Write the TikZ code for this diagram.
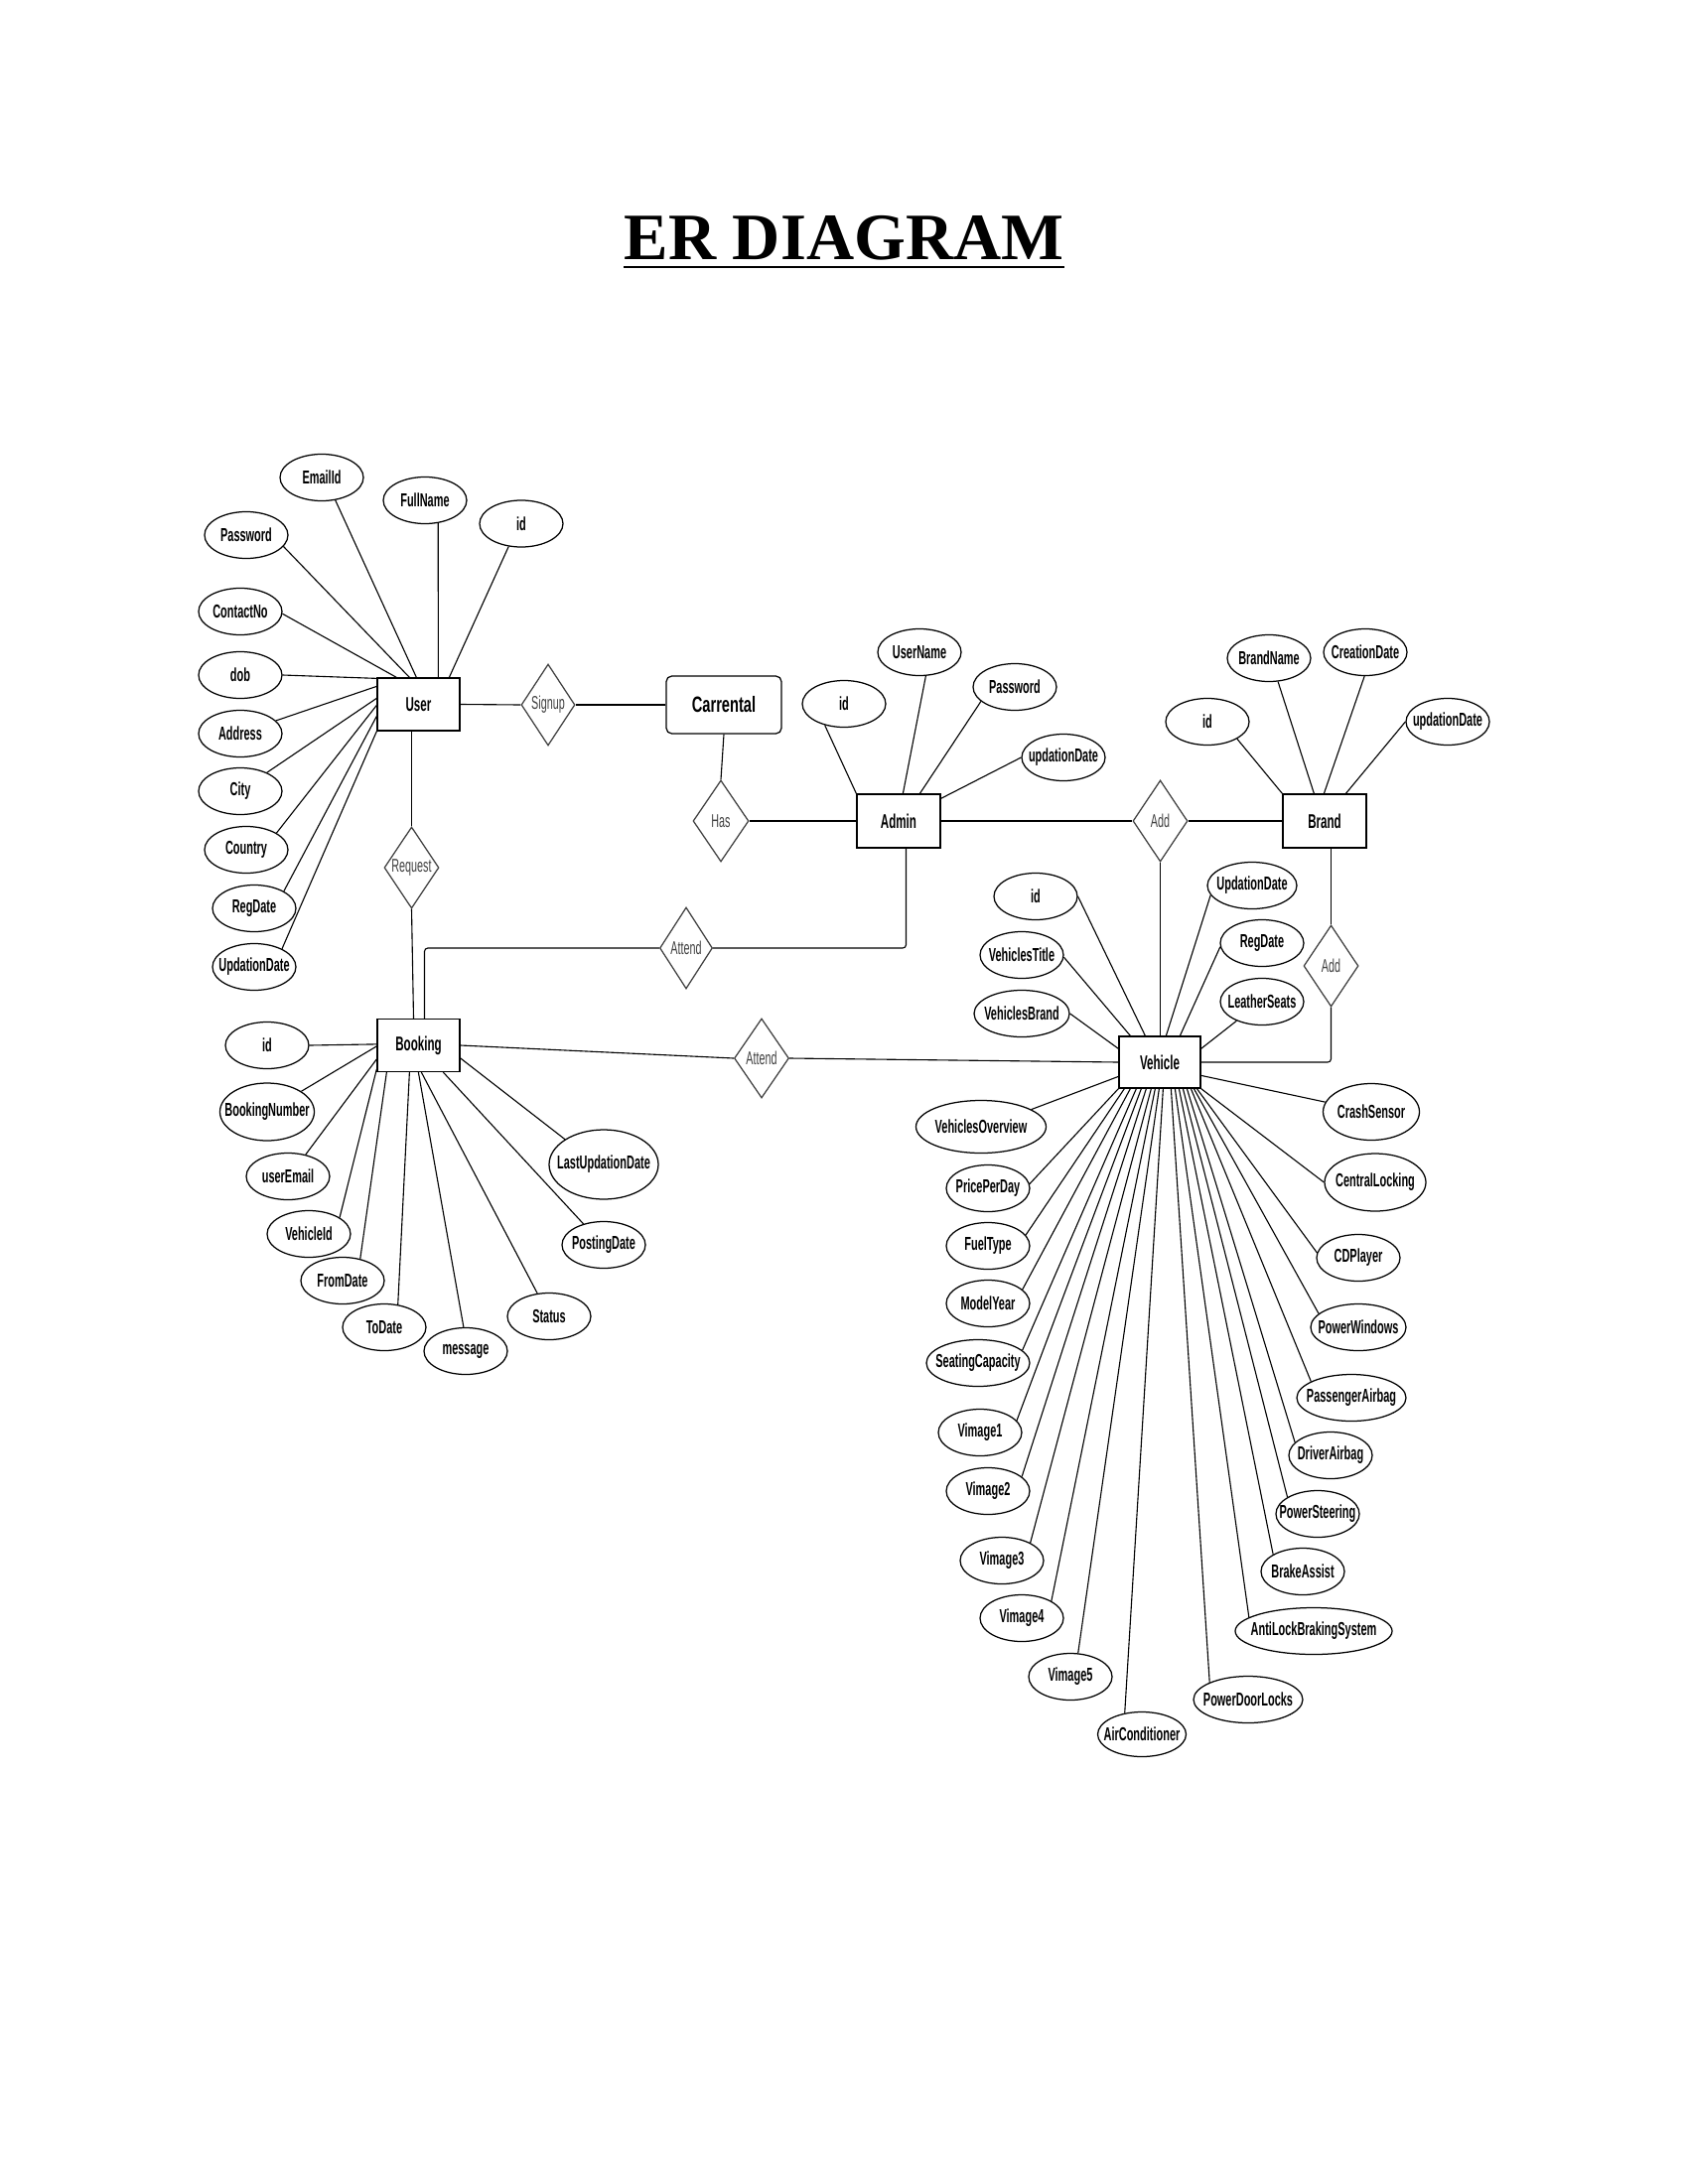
\documentclass[tikz,border=0pt]{standalone}
\usepackage{fontspec}
\usetikzlibrary{shapes.geometric,calc}
\setmainfont{Liberation Serif}
\newfontfamily\lblfont[FakeStretch=0.58]{Liberation Sans}
\newfontfamily\carfont[FakeStretch=0.66]{Liberation Sans}
% one drawing unit = one pixel of a 1700 x 2200 page
\newcommand\pxl{0.36pt}
\newcommand\lbl[1]{\makebox[0pt]{#1}}
\newcommand\attrfont{\lblfont\fontsize{6.8}{8}\selectfont\bfseries}
\newcommand\entfont{\lblfont\fontsize{7.2}{8}\selectfont\bfseries}
\newcommand\relfont{\lblfont\fontsize{6.7}{8}\selectfont}
\tikzset{
  conn/.style={draw=black, line width=0.4pt},
  entity/.style={draw, rectangle, line width=0.45pt, minimum width=83*\pxl,
    minimum height=53*\pxl, inner sep=0pt, font=\entfont},
  attr/.style={draw, ellipse, line width=0.45pt, minimum width=84*\pxl,
    minimum height=47*\pxl, inner sep=0pt, font=\attrfont},
  rel/.style={draw=black!75, diamond, line width=0.45pt, minimum width=55*\pxl,
    minimum height=82*\pxl, inner sep=0pt, font=\relfont, text=black!75},
  ew/.style={minimum width=#1*\pxl},
  eh/.style={minimum height=#1*\pxl},
  elbow/.style={conn, rounded corners=1.2pt},
}
\begin{document}
\begin{tikzpicture}[x=0.36pt, y=-0.36pt]
\useasboundingbox (0,0) rectangle (1700,2200);

% title
\node[font=\fontsize{24}{28}\selectfont\bfseries, inner sep=0pt, anchor=base] (title) at (850,262) {ER DIAGRAM};
\draw[line width=1pt] ($(title.base west)+(0,7)$) -- ($(title.base east)+(0,7)$);

% entities
\node[entity] (user) at (421.5,709.5) {User};
\node[entity] (booking) at (421.5,1053) {Booking};
\node[entity, minimum width=84*\pxl, minimum height=54*\pxl] (admin) at (905,827) {Admin};
\node[entity, minimum width=84*\pxl, minimum height=54*\pxl] (brand) at (1334,827) {Brand};
\node[entity, minimum width=82*\pxl, minimum height=52*\pxl] (vehicle) at (1168,1070) {Vehicle};
\node[draw, rounded corners=2pt, line width=0.45pt, minimum width=116*\pxl, minimum height=58*\pxl,
  inner sep=0pt, font=\carfont\fontsize{8}{9}\selectfont\bfseries] (carrental) at (729,710) {Carrental};

% relationships
\node[rel, ew=54] (signup) at (552,710) {\lbl{Signup}};
\node[rel] (request) at (414.5,874) {\lbl{Request}};
\node[rel, ew=56] (has) at (726,827) {\lbl{Has}};
\node[rel, ew=53] (attendA) at (691,955) {\lbl{Attend}};
\node[rel] (addA) at (1168.5,827) {\lbl{Add}};
\node[rel] (addB) at (1340.5,973) {\lbl{Add}};
\node[rel, eh=80] (attendB) at (767,1066) {\lbl{Attend}};

% relationship links
\draw[conn] (user.east) -- (signup.west);
\draw[conn] (signup.east) -- (carrental.west);
\draw[conn] (carrental.south) -- (has.north);
\draw[conn] (has.east) -- (admin.west);
\draw[conn] (admin.east) -- (addA.west);
\draw[conn] (addA.east) -- (brand.west);
\draw[conn] (addA.south) -- (addA.south |- vehicle.north);
\draw[conn] (brand.south -| addB.north) -- (addB.north);
\draw[elbow] (addB.south) |- (vehicle.east);
\draw[elbow] ($(admin.south)+(7.5,0)$) |- (attendA.east);
\draw[elbow] (attendA.west) -| ($(booking.north)+(6,0)$);
\draw[conn] (user.south -| request.north) -- (request.north);
\draw[conn] (request.south) -- ($(booking.north)+(-5,0)$);
\draw[conn] (booking.east) -- (attendB.west);
\draw[conn] (attendB.east) -- (vehicle.west);

% User attributes
\node[attr] (uemail) at (324,481) {\lbl{EmailId}};
\node[attr] (ufull) at (428,504) {\lbl{FullName}};
\node[attr] (uid) at (525,527.5) {\lbl{id}};
\node[attr] (upass) at (248,539) {\lbl{Password}};
\node[attr] (ucontact) at (242,616) {\lbl{ContactNo}};
\node[attr] (udob) at (242,680) {\lbl{dob}};
\node[attr] (uaddr) at (242,739) {\lbl{Address}};
\node[attr] (ucity) at (242,797) {\lbl{City}};
\node[attr] (ucountry) at (248,856) {\lbl{Country}};
\node[attr] (ureg) at (256,915) {\lbl{RegDate}};
\node[attr] (uupd) at (256,974) {\lbl{UpdationDate}};
\draw[conn] (uemail.-59) -- ($(user.north west)+(40,0)$);
\draw[conn] (ufull.-60) -- ($(user.north west)+(62,0)$);
\draw[conn] (uid.-119) -- ($(user.north west)+(73,0)$);
\draw[conn] (upass.-17) -- ($(user.north west)+(33,0)$);
\draw[conn] (ucontact.-3) -- ($(user.north west)+(20,0)$);
\draw[conn] (udob.0) -- ($(user.north west)+(0,1)$);
\draw[conn] (uaddr.20) -- ($(user.north west)+(0,9)$);
\draw[conn] (ucity.35) -- ($(user.north west)+(0,21)$);
\draw[conn] (ucountry.29) -- ($(user.north west)+(0,28)$);
\draw[conn] (ureg.30) -- ($(user.north west)+(0,39)$);
\draw[conn] (uupd.33) -- (user.south west);

% Admin attributes
\node[attr] (aid) at (850,709) {\lbl{id}};
\node[attr] (auser) at (926,657) {\lbl{UserName}};
\node[attr] (apass) at (1022,692) {\lbl{Password}};
\node[attr] (aupd) at (1071,763) {\lbl{updationDate}};
\draw[conn] (aid.-132) -- (admin.north west);
\draw[conn] (auser.-75) -- ($(admin.north west)+(47,0)$);
\draw[conn] (apass.-157) -- ($(admin.north west)+(64,0)$);
\draw[conn] (aupd.180) -- ($(admin.north east)+(0,5)$);

% Brand attributes
\node[attr] (bname) at (1278,663) {\lbl{BrandName}};
\node[attr] (bcreate) at (1375,657) {\lbl{CreationDate}};
\node[attr] (bid) at (1216,727) {\lbl{id}};
\node[attr] (bupd) at (1458,727) {\lbl{updationDate}};
\draw[conn] (bid.-30) -- (brand.north west);
\draw[conn] (bname.-69) -- ($(brand.north west)+(32,0)$);
\draw[conn] (bcreate.-92) -- ($(brand.north west)+(42,0)$);
\draw[conn] (bupd.180) -- ($(brand.north west)+(64,0)$);

% Vehicle attributes
\node[attr] (vid) at (1043,903) {\lbl{id}};
\node[attr] (vtitle) at (1029,962) {\lbl{VehiclesTitle}};
\node[attr, ew=96] (vbrand) at (1029,1021) {\lbl{VehiclesBrand}};
\node[attr, ew=90] (vupd) at (1261,892) {\lbl{UpdationDate}};
\node[attr] (vreg) at (1271,950) {\lbl{RegDate}};
\node[attr] (vleather) at (1271,1009) {\lbl{LeatherSeats}};
\node[attr, ew=131, eh=53] (voverview) at (988,1135) {\lbl{VehiclesOverview}};
\node[attr] (vprice) at (995,1197) {\lbl{PricePerDay}};
\node[attr] (vfuel) at (995,1255) {\lbl{FuelType}};
\node[attr] (vmodel) at (995,1313) {\lbl{ModelYear}};
\node[attr, ew=104] (vseat) at (985,1373) {\lbl{SeatingCapacity}};
\node[attr] (vimg1) at (987,1443) {\lbl{Vimage1}};
\node[attr] (vimg2) at (995,1502) {\lbl{Vimage2}};
\node[attr] (vimg3) at (1009,1572) {\lbl{Vimage3}};
\node[attr] (vimg4) at (1029,1630) {\lbl{Vimage4}};
\node[attr] (vimg5) at (1078,1689) {\lbl{Vimage5}};
\node[attr, ew=89, eh=45] (vair) at (1150,1747) {\lbl{AirConditioner}};
\node[attr, ew=110] (vdoor) at (1257,1712) {\lbl{PowerDoorLocks}};
\node[attr, ew=158] (vabs) at (1323,1643) {\lbl{AntiLockBrakingSystem}};
\node[attr] (vbrake) at (1312,1583) {\lbl{BrakeAssist}};
\node[attr] (vsteer) at (1327,1525) {\lbl{PowerSteering}};
\node[attr] (vdriver) at (1340,1466) {\lbl{DriverAirbag}};
\node[attr, ew=110] (vpass) at (1361,1408) {\lbl{PassengerAirbag}};
\node[attr, ew=96] (vwin) at (1368,1337) {\lbl{PowerWindows}};
\node[attr] (vcd) at (1368,1267) {\lbl{CDPlayer}};
\node[attr, ew=102, eh=58] (vcentral) at (1385,1191) {\lbl{CentralLocking}};
\node[attr, ew=97, eh=57] (vcrash) at (1381,1120) {\lbl{CrashSensor}};

\draw[conn] (vid.0) -- ($(vehicle.north west)+(27,0)$);
\draw[conn] (vtitle.-3) -- ($(vehicle.north west)+(12,0)$);
\draw[conn] (vbrand.0) -- ($(vehicle.north west)+(0,13)$);
\draw[conn] (vupd.-167) -- ($(vehicle.north west)+(48,0)$);
\draw[conn] (vreg.-175) -- ($(vehicle.north west)+(62,0)$);
\draw[conn] (vleather.-143) -- ($(vehicle.north east)+(0,13)$);
\draw[conn] (voverview.19) -- ($(vehicle.north west)+(0,41)$);
\draw[conn] (vprice.6) -- (vehicle.south west);
\draw[conn] (vfuel.16) -- ($(vehicle.south west)+(6,0)$);
\draw[conn] (vmodel.22) -- ($(vehicle.south west)+(12,0)$);
\draw[conn] (vseat.16) -- ($(vehicle.south west)+(18,0)$);
\draw[conn] (vimg1.18) -- ($(vehicle.south west)+(23,0)$);
\draw[conn] (vimg2.23) -- ($(vehicle.south west)+(28,0)$);
\draw[conn] (vimg3.32) -- ($(vehicle.south west)+(33,0)$);
\draw[conn] (vimg4.30) -- ($(vehicle.south west)+(37,0)$);
\draw[conn] (vimg5.72) -- ($(vehicle.south west)+(41,0)$);
\draw[conn] (vair.129) -- ($(vehicle.south west)+(45,0)$);
\draw[conn] (vdoor.156) -- ($(vehicle.south west)+(53,0)$);
\draw[conn] (vabs.168) -- ($(vehicle.south west)+(57,0)$);
\draw[conn] (vbrake.150) -- ($(vehicle.south west)+(61,0)$);
\draw[conn] (vsteer.151) -- ($(vehicle.south west)+(65,0)$);
\draw[conn] (vdriver.160) -- ($(vehicle.south west)+(69,0)$);
\draw[conn] (vpass.158) -- ($(vehicle.south west)+(73,0)$);
\draw[conn] (vwin.161) -- ($(vehicle.south west)+(76,0)$);
\draw[conn] (vcd.173) -- ($(vehicle.south west)+(79,0)$);
\draw[conn] (vcentral.180) -- (vehicle.south east);
\draw[conn] (vcrash.168) -- ($(vehicle.north east)+(0,40)$);

% Booking attributes
\node[attr] (kid) at (269,1053) {\lbl{id}};
\node[attr, ew=95, eh=58] (knum) at (269,1120) {\lbl{BookingNumber}};
\node[attr] (kemail) at (290,1185) {\lbl{userEmail}};
\node[attr] (kveh) at (311,1243) {\lbl{VehicleId}};
\node[attr] (kfrom) at (345,1290) {\lbl{FromDate}};
\node[attr] (kto) at (387,1337) {\lbl{ToDate}};
\node[attr] (kmsg) at (469,1361) {\lbl{message}};
\node[attr] (kstatus) at (553,1326) {\lbl{Status}};
\node[attr] (kpost) at (608,1254) {\lbl{PostingDate}};
\node[attr, ew=110, eh=70] (klast) at (608,1173) {\lbl{LastUpdationDate}};
\draw[conn] (kid.0) -- ($(booking.north west)+(0,26)$);
\draw[conn] (knum.31) -- ($(booking.north west)+(0,28)$);
\draw[conn] (kemail.51) -- ($(booking.north west)+(0,41)$);
\draw[conn] (kveh.28) -- ($(booking.north west)+(0,51)$);
\draw[conn] (kfrom.51) -- ($(booking.south west)+(10,0)$);
\draw[conn] (kto.59) -- ($(booking.south west)+(33,0)$);
\draw[conn] (kmsg.95) -- ($(booking.south west)+(42,0)$);
\draw[conn] (kstatus.117) -- ($(booking.south west)+(45,0)$);
\draw[conn] (kpost.134) -- ($(booking.south west)+(67,0)$);
\draw[conn] (klast.147) -- ($(booking.north east)+(0,40)$);
\end{tikzpicture}
\end{document}
